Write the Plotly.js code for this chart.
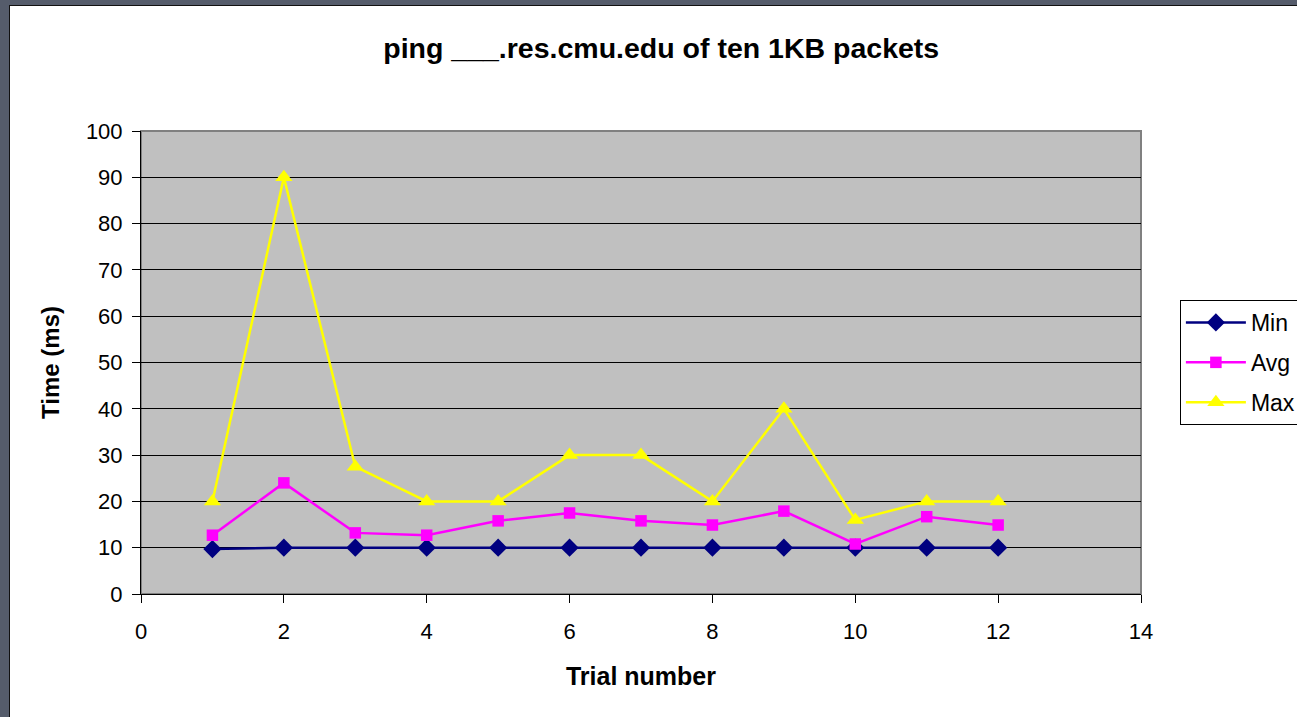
<!DOCTYPE html>
<html>
<head>
<meta charset="utf-8">
<script src="https://cdn.plot.ly/plotly-3.0.1.min.js"></script>
<style>
html,body{margin:0;padding:0;background:#555c6b;width:1297px;height:717px;overflow:hidden;}
#frame{position:absolute;left:9px;top:5px;width:1288px;height:712px;border-left:1px solid #111;border-top:1px solid #111;background:#fff;overflow:hidden;}
#chart{width:1287px;height:711px;}
</style>
</head>
<body>
<div id="frame"><div id="chart"></div></div>
<script>
const trials = [1,2,3,4,5,6,7,8,9,10,11,12];
const minVals = [9.7,10,10,10,10,10,10,10,10,10,10,10];
const avgVals = [12.7,24.0,13.2,12.7,15.8,17.5,15.8,14.9,17.9,10.8,16.7,14.9];
const maxVals = [20,90,27.5,20,20,30,30,20,40,16,20,20];
const seriesNames = ['Min','Avg','Max'];
const font = 'Arial, "Liberation Sans", sans-serif';

const traces = [
  {x: trials, y: minVals, name: seriesNames[0], legendgroup: 'a', mode: 'lines+markers',
   line: {color: '#000080', width: 2.5}, marker: {symbol: 'diamond', size: 14, color: '#000080'}},
  {x: trials, y: avgVals, name: seriesNames[1], legendgroup: 'b', mode: 'lines+markers',
   line: {color: '#ff00ff', width: 2.5}, marker: {symbol: 'square', size: 11.5, color: '#ff00ff'}},
  {x: trials, y: maxVals, name: seriesNames[2], legendgroup: 'c', mode: 'lines+markers',
   line: {color: '#ffff00', width: 2.5}, marker: {symbol: 'triangle-up', size: 15, color: '#ffff00'}}
];

const layout = {
  width: 1287, height: 711,
  margin: {l: 131, r: 156, t: 125, b: 123},
  paper_bgcolor: '#ffffff',
  plot_bgcolor: '#c0c0c0',
  font: {family: font, color: '#000', size: 22},
  title: {text: '<b>ping ___.res.cmu.edu of ten 1KB packets</b>', font: {family: font, size: 28.5, color: '#000'},
          xref: 'container', x: 0.506, xanchor: 'center', yref: 'container', y: 0.941, yanchor: 'middle'},
  xaxis: {range: [0, 14], dtick: 2, tick0: 0, showgrid: false, zeroline: false,
          ticks: 'outside', ticklen: 8, tickcolor: '#000', showline: true, linecolor: '#000', linewidth: 1,
          tickfont: {size: 22}, fixedrange: true, ticklabelstandoff: 10,
          title: {text: '<b>Trial number</b>', font: {size: 25}, standoff: 24}},
  yaxis: {range: [0, 100], dtick: 10, tick0: 0, showgrid: true, gridcolor: '#000', gridwidth: 1, zeroline: false,
          ticks: 'outside', ticklen: 8, tickcolor: '#000', showline: true, linecolor: '#000', linewidth: 1,
          tickfont: {size: 22}, fixedrange: true, ticklabelstandoff: 5,
          title: {text: '<b>Time (ms)</b>', font: {size: 24}, standoff: 19}},
  legend: {xref: 'container', yref: 'container', x: 0.909, xanchor: 'left', y: 0.5865, yanchor: 'top',
           bgcolor: '#ffffff', bordercolor: '#000', borderwidth: 1, font: {size: 23}, itemwidth: 60,
           traceorder: 'grouped', tracegroupgap: 7},
  shapes: [
    {type: 'rect', xref: 'paper', yref: 'paper', x0: 0, x1: 1, y0: 0, y1: 1,
     line: {color: '#808080', width: 2}, layer: 'below'}
  ],
  showlegend: true
};

Plotly.newPlot('chart', traces, layout, {displayModeBar: false, staticPlot: true});
</script>
</body>
</html>
